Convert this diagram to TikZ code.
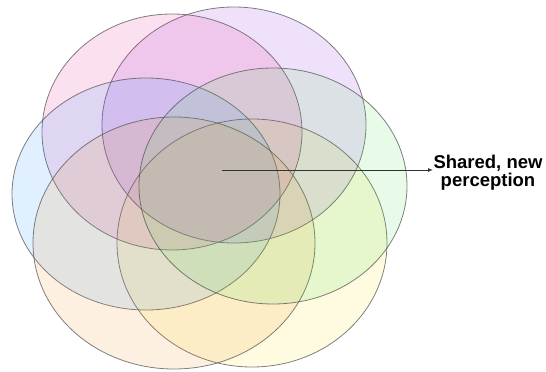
\documentclass[tikz,border=0pt]{standalone}
\usepackage{fontspec}
\setmainfont{Liberation Sans}
\usetikzlibrary{shapes.geometric,arrows.meta}
\definecolor{cpink}{RGB}{226,5,134}
\definecolor{cpurple}{RGB}{134,12,226}
\definecolor{cblue}{RGB}{12,134,255}
\definecolor{cgreen}{RGB}{62,219,62}
\definecolor{corange}{RGB}{240,134,12}
\definecolor{cyellow}{RGB}{248,226,5}
\definecolor{edge}{RGB}{85,85,85}
\definecolor{arrowc}{RGB}{50,50,50}
\tikzset{
  petal/.style={ellipse, inner sep=0pt, outer sep=0pt, draw=edge, draw opacity=0.75,
    line width=0.8pt, fill=#1, fill opacity=0.12},
  label/.style={inner sep=0pt, align=center, font=\fontsize{18.5}{18}\selectfont\bfseries, text=black}
}
\begin{document}
\begin{tikzpicture}[x=1pt,y=-1pt]
\useasboundingbox (0,0) rectangle (546,372);
\node[petal=cyellow, minimum width=270pt, minimum height=248pt] (yellow) at (252,243) {};
\node[petal=cpurple, minimum width=264pt, minimum height=236pt] (purple) at (234,125) {};
\node[petal=cpink,   minimum width=260pt, minimum height=236pt] (pink)   at (172,132) {};
\node[petal=cblue,   minimum width=268pt, minimum height=232pt] (blue)   at (146,194) {};
\node[petal=corange, minimum width=282pt, minimum height=252pt] (orange) at (174,243) {};
\node[petal=cgreen,  minimum width=268pt, minimum height=236pt] (green)  at (273,186) {};
\coordinate (c) at (222,170);
\node[label] (txt) at (488,173) {Shared, new\\perception};
\coordinate (tip) at (433,170);
\draw[arrowc, line width=1pt, -{Latex[length=5pt,width=4pt]}] (c) -- (tip);
\end{tikzpicture}
\end{document}
